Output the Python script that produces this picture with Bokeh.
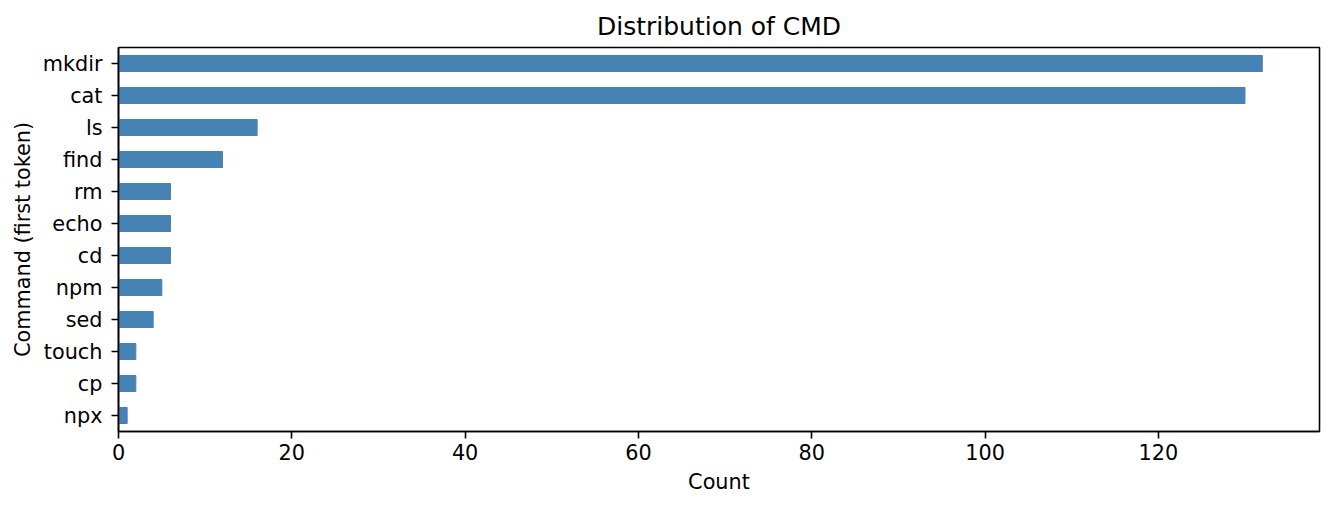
from bokeh.plotting import figure
from bokeh.models import FactorRange, Range1d, FixedTicker, ColumnDataSource
from bokeh.embed import file_html
from bokeh.resources import INLINE

# data (top to bottom as in the chart)
commands = ["mkdir", "cat", "ls", "find", "rm", "echo", "cd", "npm", "sed", "touch", "cp", "npx"]
counts = [132, 130, 16, 12, 6, 6, 6, 5, 4, 2, 2, 1]
x_ticks = [0, 20, 40, 60, 80, 100, 120]

font = "DejaVu Sans"
src = ColumnDataSource(data=dict(cmd=commands, count=counts))

p = figure(
    width=1333, height=509,
    y_range=FactorRange(factors=commands[::-1]),
    x_range=Range1d(0, max(counts) * 1.05),
    title="Distribution of CMD",
    x_axis_label="Count", y_axis_label="Command (first token)",
    toolbar_location=None, output_backend="svg",
)
p.min_border_left = 118
p.min_border_right = 14
p.min_border_top = 47
p.min_border_bottom = 78

p.hbar(y="cmd", right="count", left=0, height=0.5, source=src, color="#4682B4")

p.title.align = "center"
p.title.text_font = font
p.title.text_font_size = "25px"
p.title.text_font_style = "normal"
p.title.text_color = "black"
p.title.standoff = 13

p.xgrid.visible = False
p.ygrid.visible = False
p.outline_line_color = "black"
p.outline_line_width = 1.6
p.outline_line_alpha = 1

p.xaxis.ticker = FixedTicker(ticks=x_ticks)
for ax in (p.xaxis, p.yaxis):
    ax.axis_line_color = "black"
    ax.axis_line_width = 1.6
    ax.major_tick_in = 0
    ax.major_tick_out = 7
    ax.major_tick_line_width = 1.6
    ax.minor_tick_line_color = None
    ax.major_label_text_font = font
    ax.major_label_text_font_size = "20.8px"
    ax.major_label_text_color = "black"
    ax.axis_label_text_font = font
    ax.axis_label_text_font_size = "20.8px"
    ax.axis_label_text_font_style = "normal"
    ax.axis_label_text_color = "black"

p.xaxis.major_label_standoff = 5
p.xaxis.axis_label_standoff = 7
p.yaxis.major_label_standoff = 9
p.yaxis.axis_label_standoff = 5

p.background_fill_color = "white"
p.border_fill_color = "white"

open("out.html", "w").write(file_html(p, INLINE))
